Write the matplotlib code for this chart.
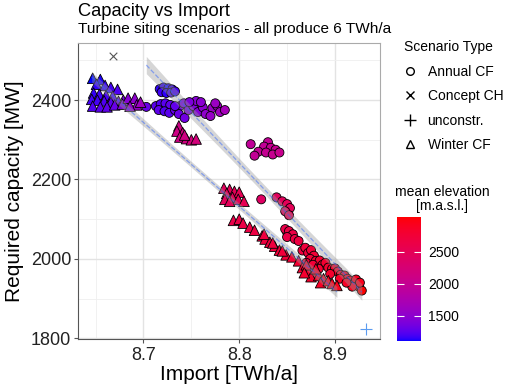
import matplotlib
matplotlib.use('Agg')
import matplotlib.pyplot as plt
import matplotlib.cm as cm
import numpy as np
from matplotlib.colors import ListedColormap, Normalize
from matplotlib.lines import Line2D

plt.rcParams['font.family'] = ['Liberation Sans', 'DejaVu Sans']

# --- data ---
# Annual CF scenarios (circles)
annual_x = [8.717, 8.721, 8.726, 8.730, 8.719, 8.724, 8.729, 8.733,
            8.703, 8.713, 8.718, 8.723, 8.728, 8.716, 8.722, 8.727, 8.733, 8.738, 8.742,
            8.737, 8.743, 8.747, 8.752, 8.755, 8.757, 8.762, 8.765, 8.772, 8.777, 8.780,
            8.785, 8.770, 8.733, 8.748, 8.760, 8.775,
            8.812, 8.830, 8.826, 8.833, 8.838, 8.820, 8.828, 8.835, 8.842, 8.816,
            8.823, 8.839, 8.845, 8.850, 8.853, 8.848, 8.852, 8.850,
            8.848, 8.852, 8.856, 8.850, 8.858, 8.862, 8.866, 8.869, 8.872, 8.875,
            8.878, 8.874, 8.880, 8.884, 8.887, 8.890, 8.893, 8.897, 8.900, 8.903,
            8.906, 8.910, 8.913, 8.916, 8.920, 8.922, 8.925, 8.928, 8.926, 8.918,
            8.883, 8.870, 8.877, 8.895, 8.905, 8.912]
annual_y = [2428, 2432, 2430, 2427, 2420, 2418, 2419, 2422,
            2383, 2385, 2390, 2392, 2388, 2375, 2372, 2368, 2375, 2385, 2392,
            2365, 2355, 2375, 2385, 2398, 2370, 2382, 2365, 2380, 2385, 2370,
            2375, 2360, 2385, 2395, 2395, 2392,
            2289, 2294, 2283, 2280, 2275, 2270, 2268, 2263, 2268, 2260,
            2150, 2155, 2145, 2138, 2128, 2120, 2110, 2067,
            2075, 2070, 2062, 2055, 2050, 2045, 2021, 2028, 2015, 2022,
            2008, 2000, 1995, 1996, 1985, 1990, 1978, 1975, 1976, 1968,
            1960, 1958, 1950, 1945, 1938, 1948, 1930, 1920, 1940, 1930,
            1975, 1990, 1985, 1962, 1950, 1940]
annual_elev = [1150, 1160, 1140, 1170, 1180, 1150, 1190, 1200,
               1300, 1250, 1230, 1250, 1270, 1270, 1230, 1250, 1300, 1330, 1360,
               1320, 1340, 1380, 1420, 1460, 1440, 1490, 1520, 1580, 1610, 1630,
               1680, 1560, 1290, 1400, 1480, 1600,
               1950, 1980, 1970, 2000, 2010, 1990, 2000, 2020, 2040, 1980,
               2400, 2450, 2460, 2480, 2490, 2470, 2500, 2550,
               2600, 2620, 2640, 2610, 2650, 2670, 2700, 2710, 2730, 2740,
               2750, 2740, 2770, 2780, 2790, 2800, 2810, 2830, 2840, 2850,
               2860, 2870, 2880, 2890, 2900, 2910, 2920, 3040, 2930, 2900,
               2790, 2720, 2750, 2820, 2860, 2880]

# Winter CF scenarios (triangles)
winter_x = [8.647, 8.655, 8.651, 8.660, 8.666, 8.673, 8.648, 8.654, 8.661, 8.668,
            8.646, 8.652, 8.659, 8.666, 8.674, 8.647, 8.655, 8.662, 8.670, 8.679,
            8.678, 8.684, 8.691, 8.693, 8.686, 8.697,
            8.737, 8.735, 8.741, 8.738, 8.745, 8.750, 8.755, 8.743,
            8.784, 8.790, 8.787, 8.795, 8.800, 8.793, 8.785, 8.799, 8.805, 8.790,
            8.794, 8.800, 8.804, 8.811, 8.816, 8.824, 8.827, 8.832, 8.837, 8.842,
            8.849, 8.835, 8.845, 8.855, 8.826,
            8.862, 8.866, 8.872, 8.870, 8.878, 8.875, 8.883, 8.888, 8.885, 8.893,
            8.897, 8.902, 8.880, 8.868]
winter_y = [2455, 2452, 2440, 2437, 2432, 2427, 2418, 2415, 2412, 2410,
            2402, 2400, 2398, 2395, 2397, 2385, 2383, 2383, 2388, 2400,
            2390, 2405, 2405, 2388, 2385, 2395,
            2335, 2322, 2318, 2307, 2303, 2300, 2302, 2312,
            2178, 2175, 2165, 2170, 2168, 2155, 2150, 2150, 2145, 2145,
            2097, 2100, 2090, 2080, 2072, 2058, 2050, 2042, 2032, 2022,
            2010, 2040, 2020, 2005, 2062,
            1995, 1978, 1970, 1985, 1965, 1955, 1958, 1950, 1940, 1945,
            1938, 1933, 1975, 1965]
winter_elev = [1110, 1130, 1150, 1170, 1190, 1220, 1160, 1180, 1200, 1230,
               1190, 1200, 1220, 1250, 1280, 1230, 1250, 1270, 1300, 1380,
               1400, 1450, 1500, 1560, 1520, 1620,
               2100, 2120, 2150, 2130, 2160, 2180, 2200, 2140,
               2450, 2480, 2470, 2500, 2520, 2490, 2460, 2510, 2530, 2480,
               2600, 2620, 2630, 2650, 2660, 2680, 2690, 2700, 2710, 2720,
               2740, 2700, 2730, 2750, 2680,
               2780, 2800, 2820, 2810, 2840, 2830, 2860, 2880, 2870, 2900,
               2920, 2940, 2850, 2810]

concept_x = [8.6684]
concept_y = [2511]
unconstr_x = [8.932]
unconstr_y = [1824]

cbar_ticks = [1500, 2000, 2500]


# ggplot-like blue -> red gradient, interpolated in CIELAB
def srgb_to_lab(rgb):
    rgb = np.asarray(rgb, dtype=float)
    c = np.where(rgb <= 0.04045, rgb / 12.92, ((rgb + 0.055) / 1.055) ** 2.4)
    M = np.array([[0.4124, 0.3576, 0.1805], [0.2126, 0.7152, 0.0722], [0.0193, 0.1192, 0.9505]])
    xyz = M @ c / np.array([0.95047, 1.0, 1.08883])
    f = np.where(xyz > 0.008856, np.cbrt(xyz), 7.787 * xyz + 16 / 116)
    return np.array([116 * f[1] - 16, 500 * (f[0] - f[1]), 200 * (f[1] - f[2])])


def lab_to_srgb(lab):
    fy = (lab[0] + 16) / 116
    fx = fy + lab[1] / 500
    fz = fy - lab[2] / 200
    f = np.array([fx, fy, fz])
    xyz = np.where(f ** 3 > 0.008856, f ** 3, (f - 16 / 116) / 7.787)
    xyz = xyz * np.array([0.95047, 1.0, 1.08883])
    Minv = np.linalg.inv(np.array([[0.4124, 0.3576, 0.1805], [0.2126, 0.7152, 0.0722], [0.0193, 0.1192, 0.9505]]))
    c = np.clip(Minv @ xyz, 0, 1)
    rgb = np.where(c <= 0.0031308, 12.92 * c, 1.055 * c ** (1 / 2.4) - 0.055)
    return np.clip(rgb, 0, 1)


lab_lo = srgb_to_lab([0, 0, 1])
lab_hi = srgb_to_lab([1, 0, 0])
cmap = ListedColormap([lab_to_srgb(lab_lo + t * (lab_hi - lab_lo)) for t in np.linspace(0, 1, 256)])
all_elev = annual_elev + winter_elev
norm = Normalize(vmin=min(all_elev), vmax=max(all_elev))

fig = plt.figure(figsize=(5.05, 3.91), dpi=100)
ax = fig.add_axes([78 / 505, 1 - 339 / 391, 302 / 505, 296 / 391])

ax.scatter(annual_x, annual_y, c=annual_elev, cmap=cmap, norm=norm, marker='o', s=42,
           edgecolors='black', linewidths=0.6, zorder=3)
ax.scatter(winter_x, winter_y, c=winter_elev, cmap=cmap, norm=norm, marker='^', s=58,
           edgecolors='black', linewidths=0.6, zorder=3)
ax.scatter(concept_x, concept_y, marker='x', color='#555555', s=30, linewidths=0.8, zorder=3)
ax.scatter(unconstr_x, unconstr_y, marker='+', color='#5B9BF0', s=70, linewidths=0.8, zorder=3)


def add_smooth(x, y):
    # linear fit with 95% confidence band, like geom_smooth(method='lm')
    x = np.asarray(x)
    y = np.asarray(y, dtype=float)
    b, a = np.polyfit(x, y, 1)
    xs = np.linspace(x.min(), x.max(), 80)
    ys = a + b * xs
    n = len(x)
    s = np.sqrt(np.sum((y - (a + b * x)) ** 2) / (n - 2))
    se = s * np.sqrt(1 / n + (xs - x.mean()) ** 2 / np.sum((x - x.mean()) ** 2))
    ax.fill_between(xs, ys - 1.98 * se, ys + 1.98 * se, color='#999999', alpha=0.4, lw=0, zorder=4)
    ax.plot(xs, ys, color='#3366FF', ls='--', lw=0.9, alpha=0.5, zorder=5)


add_smooth(annual_x, annual_y)
add_smooth(winter_x, winter_y)

ax.set_xlim(8.6317, 8.947)
ax.set_ylim(1798, 2544)
ax.set_xticks([8.7, 8.8, 8.9])
ax.set_xticklabels(['8.7', '8.8', '8.9'])
ax.set_xticks([8.65, 8.75, 8.85], minor=True)
ax.set_yticks([1800, 2000, 2200, 2400])
ax.set_yticks([1900, 2100, 2300, 2500], minor=True)
ax.grid(which='major', color='#E3E3E3', lw=1.0, zorder=0)
ax.grid(which='minor', color='#EFEFEF', lw=0.6, zorder=0)
ax.set_axisbelow(True)
ax.tick_params(which='major', labelsize=13, length=3, color='#555555', labelcolor='#222222')
ax.tick_params(which='minor', length=0)
ax.tick_params(axis='x', pad=3)
ax.tick_params(axis='y', pad=2)
for side in ['top', 'right']:
    ax.spines[side].set_color('#AAAAAA')
for side in ['left', 'bottom']:
    ax.spines[side].set_color('#555555')
for sp in ax.spines.values():
    sp.set_linewidth(0.8)

fig.text(78 / 505, 1 - 15.5 / 391, 'Capacity vs Import', fontsize=13.2, va='baseline', ha='left')
fig.text(78 / 505, 1 - 33 / 391, 'Turbine siting scenarios - all produce 6 TWh/a', fontsize=11.1,
         va='baseline', ha='left')
fig.text(229 / 505, 1 - 375 / 391, 'Import [TWh/a]', fontsize=15, ha='center', va='center')
fig.text(15 / 505, 1 - 191 / 391, 'Required capacity [MW]', fontsize=15, ha='center', va='center',
         rotation=90)

handles = [
    Line2D([], [], marker='o', ls='', mfc='none', mec='black', ms=5.5, mew=1.0),
    Line2D([], [], marker='x', ls='', color='black', ms=5.5, mew=1.0),
    Line2D([], [], marker='+', ls='', color='black', ms=8, mew=1.0),
    Line2D([], [], marker='^', ls='', mfc='none', mec='black', ms=6, mew=1.0),
]
labels = ['Annual CF', 'Concept CH', 'unconstr.', 'Winter CF']
fig.legend(handles, labels, title='Scenario Type', loc='upper left',
           bbox_to_anchor=(404 / 505, 1 - 40 / 391), frameon=False, fontsize=10,
           title_fontsize=10, handlelength=0.8, handletextpad=0.9, labelspacing=0.76,
           borderaxespad=0, borderpad=0, alignment='left')

cax = fig.add_axes([397 / 505, 1 - 341 / 391, 24 / 505, 124 / 391])
cb = fig.colorbar(cm.ScalarMappable(norm=norm, cmap=cmap), cax=cax, ticks=cbar_ticks)
cb.outline.set_visible(False)
cax.tick_params(direction='in', length=5, width=0.8, color='white', left=True, right=True,
                labelsize=10, pad=5)
fig.text(442 / 505, 1 - 199 / 391, 'mean elevation\n[m.a.s.l.]', fontsize=10, ha='center',
         va='center', multialignment='center', linespacing=1.05)

fig.savefig('out.png', dpi=100)
